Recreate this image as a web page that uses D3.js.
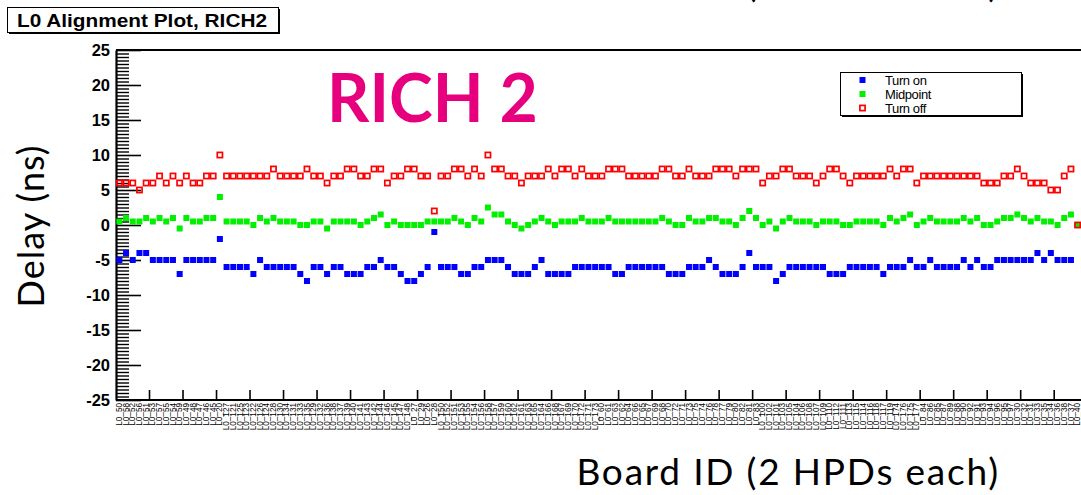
<!DOCTYPE html>
<html>
<head>
<meta charset="utf-8">
<script src="https://cdn.jsdelivr.net/npm/d3@7"></script>
<style>
  body { margin: 0; background: #fff; }
  svg { display: block; }
</style>
</head>
<body>
<svg id="chart" width="1081" height="495"></svg>
<script>
// board ids along the x axis (L0_xx), one per bin
var boardIds = [50,58,52,56,51,53,57,55,54,59,49,48,47,46,45,20,127,121,125,123,122,126,124,128,
  130,134,131,133,135,129,132,136,138,137,139,140,141,143,142,144,146,145,147,148,27,29,26,28,
  150,152,151,153,155,154,156,158,157,159,160,162,161,163,165,164,166,168,167,169,170,172,171,173,
  60,61,63,62,64,66,65,67,69,68,70,72,71,73,75,74,76,78,77,79,80,82,81,83,
  100,102,101,103,105,104,106,108,107,109,110,112,111,113,115,114,116,118,117,119,174,176,175,177,
  84,86,85,87,89,88,90,92,91,93,94,96,95,97,30,32,31,33,35,34,36,38,37,40];

var turnOn = [-5,-4,-5,-4,-4,-5,-5,-5,-5,-7,-5,-5,-5,-5,-5,-2,-6,-6,-6,-6,-7,-5,-6,-6,-6,-6,-6,-7,-8,-6,
  -6,-7,-6,-6,-7,-7,-7,-6,-6,-5,-6,-6,-7,-8,-8,-7,-6,
  -1,-6,-6,-6,-7,-7,-6,-6,-5,-5,-5,-6,-7,-7,-7,-6,-5,-7,-7,-7,-7,-6,-6,-6,-6,-6,-6,-7,-7,
  -6,-6,-6,-6,-6,-6,-7,-7,-7,-6,-6,-6,-5,-6,-7,-7,-7,-6,-4,
  -6,-6,-6,-8,-7,-6,-6,-6,-6,-6,-6,-7,-7,-7,-6,-6,-6,-6,-6,-7,-6,-6,-6,-5,-6,-6,-5,-6,-6,
  -6,-6,-5,-6,-5,-6,-6,-5,-5,-5,-5,-5,-5,-4,-5,-4,-5,-5,-5,0];

var midpoint = [0.5,1,0.5,0.5,1,0.5,1,0.5,1,-0.5,1,0.5,0.5,1,1,4,0.5,0.5,0.5,0.5,0,1,0.5,1,0.5,0.5,0.5,0,0,0.5,
  0.5,-0.5,0.5,0.5,0.5,0.5,0,0.5,1,1.5,0,0.5,0,0,0,0,0.5,
  0.5,0.5,0.5,1,0.5,0,1,0.5,2.5,1.5,1.5,0.5,0,-0.5,0,0.5,1,0.5,0,0.5,0.5,0.5,1,0.5,0.5,0.5,1,0.5,0.5,
  0.5,0.5,0.5,0.5,0.5,1,0.5,0,0,1,0.5,0.5,1,1,0.5,0.5,0,1,2,
  1,0,0.5,-0.5,0.5,1,0.5,0.5,0.5,0,0.5,0.5,0.5,0,0,0.5,0.5,0.5,0.5,0,1,0.5,1,1.5,0,0.5,1,0.5,0.5,
  0.5,0.5,1,0.5,1,0,0,0.5,1,1,1.5,1,0.5,1,0.5,0.5,0,1,1.5,0];

var turnOff = [6,6,6,5,6,6,7,6,7,6,7,6,6,7,7,10,7,7,7,7,7,7,7,8,7,7,7,7,8,7,
  7,6,7,7,8,8,7,7,8,8,6,7,7,8,8,7,7,
  2,7,7,8,8,7,8,7,10,8,8,7,7,6,7,7,7,8,7,8,8,7,8,7,7,7,8,8,8,
  7,7,7,7,7,8,8,7,7,8,7,7,7,8,8,8,7,8,8,
  8,6,7,7,8,8,7,7,7,6,7,8,8,7,6,7,7,7,7,7,8,7,8,8,6,7,7,7,7,
  7,7,7,7,7,6,6,6,7,7,8,7,6,6,6,5,5,7,8,0];

var yMajor = [25,20,15,10,5,0,-5,-10,-15,-20,-25];
var seriesNames = ["Turn on", "Midpoint", "Turn off"];
var seriesColors = ["#0000ff", "#00f000", "#ff0000"];

var labels = boardIds.map(function(d) { return "L0_" + d; });
var svg = d3.select("#chart");

var x = d3.scaleBand().domain(labels).range([116, 1081]);
var y = d3.scaleLinear().domain([-25, 25]).range([400, 50]);
var bw = x.bandwidth();
function cx(i) { return x(labels[i]) + bw / 2; }

var bigFont = "Lato, 'DejaVu Sans', sans-serif";
var rootFont = "'Liberation Sans', Arial, sans-serif";

// cut-off axis title of the panel above
svg.append("text")
  .attr("x", 1000).attr("y", -3)
  .attr("text-anchor", "end")
  .style("font-family", bigFont)
  .style("font-size", "37px").style("letter-spacing", "1.8px")
  .attr("fill", "#000")
  .text("Board ID (2 HPDs each)");

// frame
svg.append("line").attr("x1", 116).attr("x2", 1081).attr("y1", y(25)).attr("y2", y(25))
  .attr("stroke", "#000").attr("stroke-width", 2);
svg.append("line").attr("x1", 116).attr("x2", 1081).attr("y1", y(-25)).attr("y2", y(-25))
  .attr("stroke", "#000").attr("stroke-width", 2);

// y axis: minor then major
var minor = d3.range(-25, 25.01, 0.5).filter(function(v) { return v % 5 != 0; });
svg.append("g").attr("transform", "translate(116,0)")
  .call(d3.axisLeft(y).tickValues(minor).tickSizeInner(-13).tickSizeOuter(0).tickFormat(""))
  .call(function(g) { g.select(".domain").remove(); g.selectAll("line").attr("stroke-width", 1.4); });

var yAxis = svg.append("g").attr("transform", "translate(116,0)")
  .call(d3.axisLeft(y).tickValues(yMajor).tickSizeInner(-25).tickSizeOuter(0).tickPadding(6)
    .tickFormat(function(d) { return String(d); }));
yAxis.select(".domain").attr("stroke-width", 2.2);
yAxis.selectAll("line").attr("stroke-width", 1.6);
yAxis.selectAll("text")
  .style("font-family", rootFont)
  .style("font-weight", "bold")
  .style("font-size", "16.5px")
  .attr("fill", "#000");

// x axis ticks every 5 bins, on bin edges
var xTickIdx = d3.range(5, labels.length, 5);
svg.append("g").selectAll("line").data(xTickIdx).enter().append("line")
  .attr("x1", function(i) { return x(labels[i]); })
  .attr("x2", function(i) { return x(labels[i]); })
  .attr("y1", y(-25)).attr("y2", y(-25) - 10)
  .attr("stroke", "#000").attr("stroke-width", 1.6);

// bin labels, vertical
svg.append("g").selectAll("text").data(labels).enter().append("text")
  .attr("transform", function(d) { return "translate(" + (x(d) + bw / 2 + 2.6) + "," + (y(-25) + 3) + ") rotate(-90)"; })
  .attr("text-anchor", "end")
  .style("font-family", rootFont)
  .style("font-size", "8.2px")
  .attr("fill", "#000")
  .text(function(d) { return d; });

// markers
function drawSeries(vals, k) {
  var g = svg.append("g");
  if (k < 2) {
    g.selectAll("rect").data(vals).enter().append("rect")
      .attr("x", function(v, i) { return cx(i) - 3; })
      .attr("y", function(v) { return y(v) - 3; })
      .attr("width", 6).attr("height", 6)
      .attr("fill", seriesColors[k]);
  } else {
    g.selectAll("rect").data(vals).enter().append("rect")
      .attr("x", function(v, i) { return cx(i) - 2.6; })
      .attr("y", function(v) { return y(v) - 2.6; })
      .attr("width", 5.2).attr("height", 5.2)
      .attr("fill", "none")
      .attr("stroke", seriesColors[k]).attr("stroke-width", 1.7);
  }
}
drawSeries(turnOn, 0);
drawSeries(midpoint, 1);
drawSeries(turnOff, 2);

// title box
svg.append("rect").attr("x", 9).attr("y", 9).attr("width", 271).attr("height", 25).attr("fill", "#000");
svg.append("rect").attr("x", 7.5).attr("y", 7.5).attr("width", 271).attr("height", 25)
  .attr("fill", "#fff").attr("stroke", "#000").attr("stroke-width", 1);
svg.append("text").attr("x", 17).attr("y", 27)
  .attr("textLength", 250).attr("lengthAdjust", "spacingAndGlyphs")
  .style("font-family", rootFont)
  .style("font-weight", "bold").style("font-size", "18px")
  .text("L0 Alignment Plot, RICH2");

// legend
var lg = svg.append("g");
lg.append("rect").attr("x", 842).attr("y", 74).attr("width", 181).attr("height", 43).attr("fill", "#000");
lg.append("rect").attr("x", 840.5).attr("y", 72.5).attr("width", 181).attr("height", 43)
  .attr("fill", "#fff").attr("stroke", "#000").attr("stroke-width", 1);
var ly = d3.scalePoint().domain(seriesNames).range([80, 108]);
seriesNames.forEach(function(n, k) {
  if (k < 2) {
    lg.append("rect").attr("x", 859.5).attr("y", ly(n) - 3).attr("width", 6).attr("height", 6)
      .attr("fill", seriesColors[k]);
  } else {
    lg.append("rect").attr("x", 859.9).attr("y", ly(n) - 2.6).attr("width", 5.2).attr("height", 5.2)
      .attr("fill", "none").attr("stroke", seriesColors[k]).attr("stroke-width", 1.7);
  }
  lg.append("text").attr("x", 885).attr("y", ly(n) + 4.5)
    .style("font-family", rootFont)
    .style("font-size", "13px").style("letter-spacing", "-0.4px")
    .text(n);
});

// RICH 2 tag
svg.append("text").attr("x", 327).attr("y", 122)
  .style("font-family", bigFont)
  .style("font-weight", "bold").style("font-size", "66px")
  .attr("fill", "#e6007e")
  .text("RICH 2");

// axis titles
svg.append("text").attr("transform", "translate(44,226) rotate(-90)")
  .attr("text-anchor", "middle")
  .style("font-family", bigFont)
  .style("font-size", "36px").style("letter-spacing", "1px")
  .text("Delay (ns)");

svg.append("text").attr("x", 1000).attr("y", 485)
  .attr("text-anchor", "end")
  .style("font-family", bigFont)
  .style("font-size", "37px").style("letter-spacing", "1.8px")
  .text("Board ID (2 HPDs each)");
</script>
</body>
</html>
